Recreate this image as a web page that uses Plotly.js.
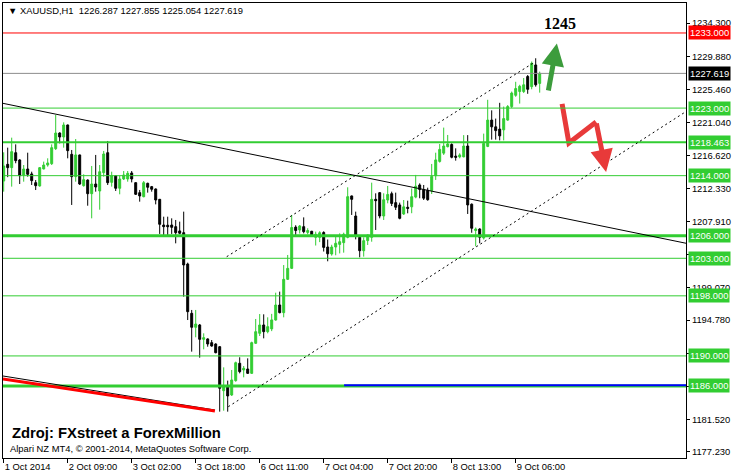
<!DOCTYPE html>
<html><head><meta charset="utf-8">
<script src="https://cdn.plot.ly/plotly-3.0.1.min.js"></script>
<style>html,body{margin:0;padding:0;background:#fff}#chart{width:734px;height:475px}</style>
</head><body><div id="chart"></div>
<script>
// ---- OHLC data (XAUUSD H1) ----
const open = [1213.29,1215.51,1215.07,1217.06,1216.09,1214.09,1214.89,1214.23,1213.07,1212.63,
1214.89,1215.42,1215.6,1217.6,1219.68,1219.15,1220.75,1216.84,1213.87,1216.76,
1212.67,1213.42,1211.6,1212.89,1211.96,1214.4,1217.06,1213.11,1214.0,1212.32,
1213.56,1213.56,1214.36,1213.07,1211.74,1211.2,1212.98,1212.54,1212.23,1210.85,
1207.43,1207.4,1207.43,1207.21,1206.64,1206.41,1202.24,1195.67,1193.81,1194.12,
1192.21,1192.26,1191.77,1191.59,1191.23,1185.37,1186.0,1184.8,1186.71,1189.02,
1188.13,1188.26,1187.68,1191.68,1193.01,1194.12,1193.23,1193.6,1194.78,1196.78,
1195.76,1200.2,1201.66,1207.15,1206.77,1207.21,1206.45,1206.6,1205.79,1205.79,
1206.43,1204.5,1203.57,1204.5,1204.85,1205.08,1205.79,1211.3,1208.63,1205.79,
1204.01,1205.35,1205.79,1210.85,1211.74,1208.63,1210.76,1211.6,1210.41,1210.1,
1208.9,1209.79,1209.85,1211.15,1212.76,1212.15,1212.05,1212.0,1214.0,1215.9,
1217.0,1217.86,1218.15,1216.6,1216.5,1216.5,1217.95,1210.2,1206.7,1206.9,
1205.7,1217.9,1221.4,1220.5,1220.2,1220.1,1221.4,1223.2,1224.7,1225.2,
1225.2,1227.2,1225.85,1228.74,1226.287];
const high = [1217.11,1217.73,1219.06,1218.17,1216.2,1215.42,1217.06,1214.53,1213.42,1215.15,
1215.87,1216.31,1218.17,1222.08,1219.77,1221.1,1220.8,1217.42,1218.88,1216.8,
1214.18,1213.5,1215.29,1216.76,1215.42,1217.29,1218.62,1214.53,1214.09,1214.0,
1214.62,1214.62,1214.62,1213.1,1212.1,1213.29,1213.07,1212.63,1212.3,1210.9,
1208.54,1208.54,1208.32,1208.1,1207.88,1209.21,1202.42,1196.12,1196.12,1194.25,
1193.01,1192.34,1192.12,1191.68,1191.32,1188.48,1186.71,1188.13,1189.24,1189.82,
1188.66,1189.68,1191.9,1194.92,1195.58,1195.54,1195.14,1195.6,1198.42,1198.56,
1202.1,1203.44,1208.77,1207.4,1207.43,1208.45,1207.0,1206.65,1206.55,1206.6,
1206.6,1205.5,1204.8,1205.85,1206.32,1206.41,1212.45,1211.35,1209.21,1206.1,
1205.79,1206.15,1213.07,1211.65,1211.8,1211.65,1212.63,1211.87,1211.74,1210.41,
1210.76,1210.67,1212.3,1214.1,1212.98,1212.76,1212.4,1215.56,1217.06,1218.22,
1220.4,1219.42,1218.31,1217.64,1216.98,1219.4,1219.4,1210.3,1207.1,1207.0,
1219.6,1224.1,1222.7,1221.6,1223.7,1223.2,1223.4,1225.2,1226.5,1226.1,
1227.0,1227.4,1229.2,1229.63,1227.855];
const low = [1211.87,1213.8,1212.54,1215.65,1212.89,1213.2,1213.87,1212.76,1212.09,1212.54,
1214.85,1215.2,1215.42,1217.42,1218.3,1217.73,1216.31,1210.1,1213.2,1212.76,
1212.54,1210.0,1208.32,1211.87,1209.47,1213.87,1212.76,1212.54,1211.96,1211.52,
1213.42,1213.2,1213.11,1211.43,1210.54,1211.12,1211.74,1211.87,1210.18,1206.24,
1205.97,1206.1,1206.24,1204.99,1206.2,1197.89,1194.78,1190.57,1192.48,1189.77,
1190.88,1191.23,1191.23,1190.35,1182.58,1182.71,1182.58,1184.67,1186.57,1187.68,
1187.15,1187.6,1187.6,1191.59,1192.65,1192.34,1193.01,1193.3,1194.7,1195.67,
1195.14,1200.11,1201.57,1206.1,1206.3,1206.32,1206.2,1205.85,1204.7,1205.15,
1203.9,1202.6,1203.35,1203.4,1203.65,1203.75,1205.66,1208.77,1205.52,1203.13,
1203.22,1204.77,1205.21,1206.77,1208.32,1208.1,1210.32,1209.96,1209.43,1208.19,
1208.77,1208.99,1209.0,1210.99,1210.99,1210.76,1210.67,1211.56,1213.43,1215.74,
1216.76,1217.77,1216.31,1216.0,1216.31,1216.45,1208.9,1206.4,1204.6,1205.0,
1205.5,1217.8,1218.8,1218.8,1218.7,1218.7,1221.3,1223.0,1224.5,1223.6,
1225.0,1224.9,1225.5,1225.85,1225.054];
const close = [1215.29,1215.07,1217.2,1216.0,1214.0,1214.89,1214.18,1213.34,1212.67,1215.07,
1215.42,1215.69,1217.73,1219.68,1219.15,1220.75,1217.33,1213.87,1216.76,1212.89,
1213.47,1211.6,1212.89,1212.49,1214.53,1216.89,1213.07,1214.0,1212.32,1213.56,
1214.09,1214.31,1213.56,1211.52,1211.3,1213.07,1212.45,1212.19,1210.76,1207.52,
1207.21,1207.2,1207.12,1206.41,1206.33,1202.11,1195.89,1193.81,1194.25,1192.21,
1192.43,1191.59,1191.32,1190.43,1185.69,1185.91,1184.67,1186.8,1189.1,1187.91,
1188.35,1187.68,1191.77,1193.23,1194.12,1193.23,1193.9,1194.8,1196.78,1195.76,
1200.2,1201.66,1207.1,1206.7,1207.3,1206.55,1206.7,1205.97,1206.2,1206.4,
1204.45,1203.6,1204.5,1205.0,1205.21,1206.2,1211.21,1210.85,1206.1,1204.01,
1205.35,1206.1,1210.85,1210.67,1208.63,1210.8,1211.5,1210.3,1209.8,1208.32,
1209.85,1209.65,1211.2,1212.6,1212.15,1211.0,1210.8,1213.9,1216.1,1217.5,
1217.95,1218.22,1216.45,1216.45,1216.76,1217.95,1210.1,1207.0,1206.9,1205.8,
1218.3,1221.4,1220.5,1220.0,1219.3,1221.6,1223.2,1225.0,1225.6,1225.9,
1226.1,1225.5,1228.96,1226.1,1227.619];

// x axis (bar number) ticks and labels
const tickBars = [0, 16, 32, 48, 64, 80, 96, 112, 128];
const tickDates = ["1 Oct 2014","2 Oct 09:00","3 Oct 02:00","3 Oct 18:00","6 Oct 11:00","7 Oct 04:00","7 Oct 20:00","8 Oct 13:00","9 Oct 06:00"];
// price scale ticks (those hidden behind level labels in the reference are left unlabelled)
const priceTicks = [1234.300,1229.880,1225.460,1221.040,1216.620,1212.330,1207.910,1203.490,1199.070,1194.780,1190.360,1185.940,1181.520,1177.230];
const hiddenTicks = [1203.490, 1190.360, 1185.940];
// horizontal levels
const levelPrices = [1233.000, 1223.000, 1218.463, 1214.000, 1206.000, 1203.000, 1198.000, 1190.000, 1186.000];
// drawn objects (bar, price)
const trendBars = [-0.25, 170.6];           const trendPrices = [1223.64, 1205.0];
const chanUpBars = [55.75, 132.8];          const chanUpPrices = [1203.21, 1229.14];
const chanLowBars = [56.15, 170.6];         const chanLowPrices = [1183.24, 1222.55];
const lowBlackBars = [-0.2, 52.8];          const lowBlackPrices = [1187.33, 1182.8];
const lowRedBars = [-0.2, 52.8];            const lowRedPrices = [1186.93, 1182.67];
const blueBars = [85.1, 172];               const bluePrices = [1186.1, 1186.1];
const upArrowBars = [136.1, 138.3];         const upArrowPrices = [1225.14, 1231.6];
const downPathBars = [139.6, 141.3, 148.1, 150.6];
const downPathPrices = [1223.55, 1218.35, 1221.15, 1214.49];
const targetText = "1245";                  const targetBar = 139.1; const targetPrice = 1234.2;
const symbolHeader = "▼ XAUUSD,H1  1226.287 1227.855 1225.054 1227.619";
const sourceText = "Zdroj: FXstreet a ForexMillion";
const copyrightText = "Alpari NZ MT4, © 2001-2014, MetaQuotes Software Corp.";

// ---- styles ----
const GREEN = '#32CD32';
const levelStyle = [
  {c:'#FF0000', w:1, bg:'#FF0000'}, {c:GREEN, w:1, bg:GREEN}, {c:GREEN, w:2, bg:GREEN},
  {c:GREEN, w:1, bg:GREEN}, {c:GREEN, w:3, bg:GREEN}, {c:GREEN, w:1, bg:GREEN},
  {c:GREEN, w:1, bg:GREEN}, {c:GREEN, w:1, bg:GREEN}, {c:GREEN, w:3, bg:GREEN}
];
const FONT = 'Liberation Sans, Arial, sans-serif';
const FS = 9.4;

const bars = open.map((_, i) => i);
const lastClose = close[close.length - 1];

const traces = [
  {type:'candlestick', x:bars, open:open, high:high, low:low, close:close,
   increasing:{line:{color:GREEN, width:1}, fillcolor:GREEN},
   decreasing:{line:{color:'#000000', width:1}, fillcolor:'#000000'},
   whiskerwidth:0, hoverinfo:'skip', showlegend:false},
  {type:'scatter', mode:'lines', x:downPathBars.slice(0,3), y:downPathPrices.slice(0,3),
   line:{color:'#e83a3a', width:5}, hoverinfo:'skip', showlegend:false}
];

const shapes = [];
levelPrices.forEach((p, k) => {
  shapes.push({type:'line', xref:'paper', x0:0, x1:1, yref:'y', y0:p, y1:p,
    line:{color:levelStyle[k].c, width:levelStyle[k].w}, layer:'above'});
});
shapes.push({type:'line', xref:'paper', x0:0, x1:1, yref:'y', y0:lastClose, y1:lastClose,
  line:{color:'#8c8c8c', width:1}, layer:'above'});
const seg = (bx, py, color, width, dash) => ({type:'line', xref:'x', yref:'y',
  x0:bx[0], x1:bx[1], y0:py[0], y1:py[1], line:{color:color, width:width, dash:dash||'solid'}, layer:'above'});
shapes.push(seg(trendBars, trendPrices, '#000', 1));
shapes.push(seg(chanUpBars, chanUpPrices, '#000', 1, '2px,3px'));
shapes.push(seg(chanLowBars, chanLowPrices, '#000', 1, '2px,3px'));
shapes.push(seg(lowBlackBars, lowBlackPrices, '#000', 1));
shapes.push(seg(lowRedBars, lowRedPrices, '#FF0000', 3));
shapes.push(seg(blueBars, bluePrices, '#0000FF', 2));

const annotations = [];
// price labels on the right scale
levelPrices.forEach((p, k) => {
  annotations.push({xref:'paper', x:1, xanchor:'left', xshift:2, yref:'y', y:p, yanchor:'middle',
    text:p.toFixed(3), showarrow:false, bgcolor:levelStyle[k].bg, borderpad:1,
    font:{family:FONT, size:FS, color:'#ffffff'}});
});
annotations.push({xref:'paper', x:1, xanchor:'left', xshift:2, yref:'y', y:lastClose, yanchor:'middle',
  text:lastClose.toFixed(3), showarrow:false, bgcolor:'#000000', borderpad:1,
  font:{family:FONT, size:FS, color:'#ffffff'}});
// arrows
annotations.push({xref:'x', yref:'y', x:upArrowBars[1], y:upArrowPrices[1], axref:'x', ayref:'y',
  ax:upArrowBars[0], ay:upArrowPrices[0], text:'', showarrow:true, arrowhead:2, arrowsize:0.9,
  arrowwidth:5, arrowcolor:'#3c9c3c'});
annotations.push({xref:'x', yref:'y', x:downPathBars[3], y:downPathPrices[3], axref:'x', ayref:'y',
  ax:downPathBars[2], ay:downPathPrices[2], text:'', showarrow:true, arrowhead:2, arrowsize:0.9,
  arrowwidth:5, arrowcolor:'#e83a3a'});
annotations.push({xref:'x', yref:'y', x:targetBar, y:targetPrice, text:'<b>'+targetText+'</b>',
  showarrow:false, font:{family:'Liberation Serif, Times New Roman, serif', size:16, color:'#000'}});
// texts
annotations.push({xref:'paper', yref:'paper', x:0.0044, y:0.9846, xanchor:'left', yanchor:'middle',
  text:symbolHeader.replace(/  /g,'&nbsp; '), showarrow:false, font:{family:FONT, size:FS, color:'#000'}});
annotations.push({xref:'paper', yref:'paper', x:0.0102, y:0.055, xanchor:'left', yanchor:'middle',
  text:'<b>'+sourceText+'</b>', showarrow:false, font:{family:FONT, size:14.8, color:'#000'}});
annotations.push({xref:'paper', yref:'paper', x:0.0073, y:0.0198, xanchor:'left', yanchor:'middle',
  text:copyrightText, showarrow:false, font:{family:FONT, size:FS, color:'#000'}});

const layout = {
  width:734, height:475, margin:{l:3, r:48, t:3, b:17},
  paper_bgcolor:'#ffffff', plot_bgcolor:'#ffffff', showlegend:false,
  xaxis:{type:'linear', range:[-0.175, 170.575], showgrid:false, zeroline:false,
    showline:true, mirror:true, linecolor:'#000', linewidth:1,
    tickmode:'array', tickvals:tickBars, ticktext:tickDates, ticks:'outside', ticklen:4, tickcolor:'#000',
    ticklabelposition:'outside right', tickfont:{family:FONT, size:FS, color:'#000'},
    rangeslider:{visible:false}, fixedrange:true},
  yaxis:{side:'right', range:[1176.41, 1236.99], showgrid:false, zeroline:false,
    showline:true, mirror:true, linecolor:'#000', linewidth:1,
    tickmode:'array', tickvals:priceTicks,
    ticktext:priceTicks.map(v => hiddenTicks.includes(v) ? '' : v.toFixed(3)),
    ticks:'outside', ticklen:3, tickcolor:'#000',
    tickfont:{family:FONT, size:FS, color:'#000'}, fixedrange:true},
  shapes:shapes, annotations:annotations
};
Plotly.newPlot('chart', traces, layout, {staticPlot:true, displayModeBar:false});
</script></body></html>
